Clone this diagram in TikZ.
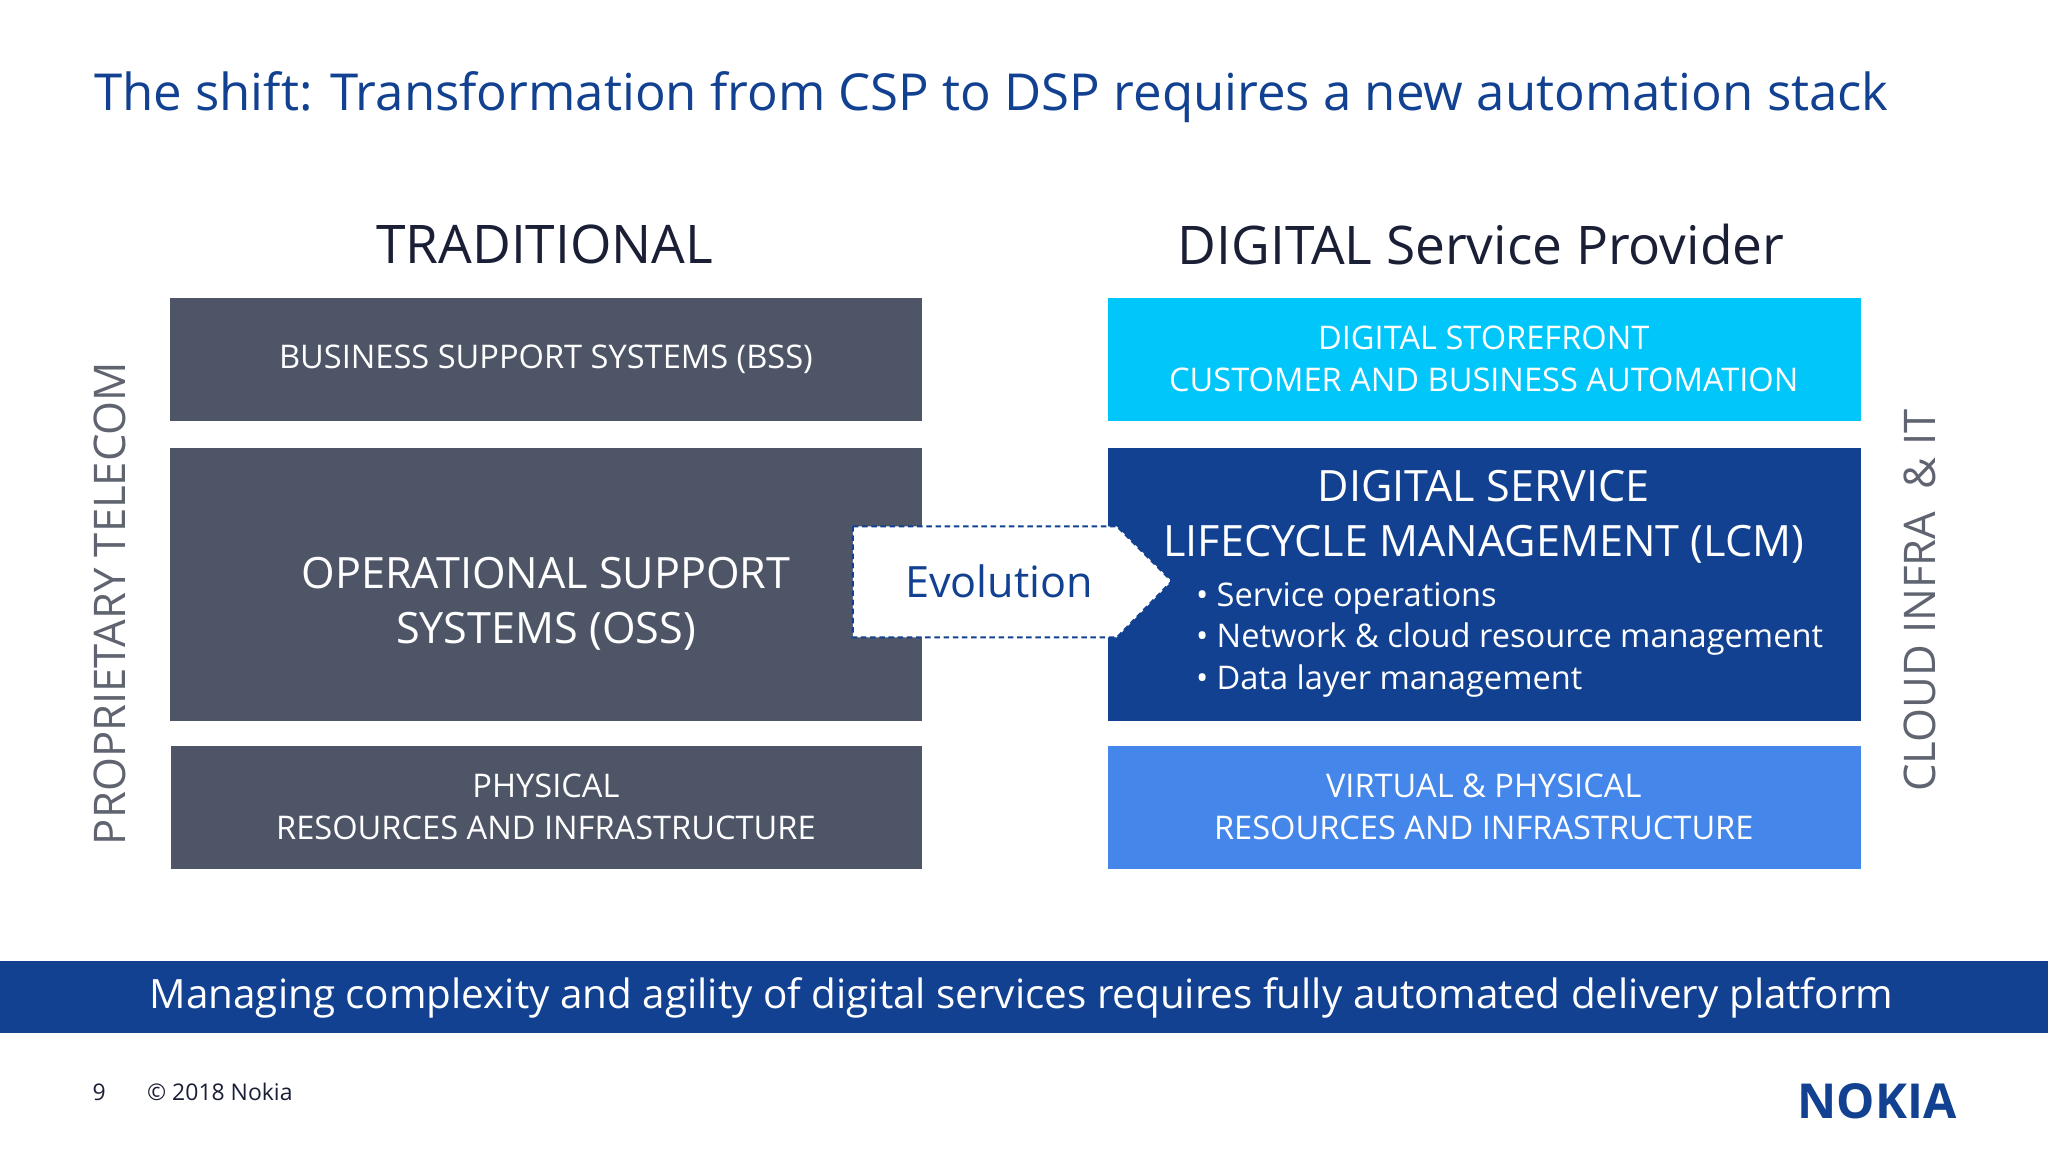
\documentclass[tikz,border=0pt]{standalone}
\usepackage{fontspec}
\setmainfont{Open Sans}
\usetikzlibrary{positioning,shapes.symbols}
\definecolor{slate}{HTML}{4D5566}
\definecolor{nokblue}{HTML}{124191}
\definecolor{skyblue}{HTML}{00C6FA}
\definecolor{midblue}{HTML}{4486EA}
\definecolor{ink}{HTML}{1A1F36}
\definecolor{sidegray}{HTML}{5F6470}
\tikzset{
  block/.style={draw=none,text=white,align=center,inner sep=0pt,font=\fontsize{7.1}{9.1}\selectfont},
  head/.style={text=ink,font=\fontsize{11.6}{14}\selectfont},
  side/.style={text=sidegray,rotate=90,font=\fontsize{9.5}{11}\selectfont}
}
\begin{document}
\begin{tikzpicture}[x=0.1mm,y=-0.1mm]
  \useasboundingbox[fill=white] (0,0) rectangle (1568,882);
  \node[text=nokblue,font=\fontsize{11.1}{13}\selectfont] (title) at (759,74) {The shift: Transformation from CSP to DSP requires a new automation stack};
  \node[head] (trad) at (417,187) {TRADITIONAL};
  \node[head] (dsp) at (1134,187) {DIGITAL Service Provider};
  % traditional stack
  \fill[slate] (130,228) rectangle (706,322);
  \node[block] (bss) at (418,275) {BUSINESS SUPPORT SYSTEMS (BSS)};
  \fill[slate] (130,343) rectangle (706,552);
  \node[block,font=\fontsize{9.4}{12}\selectfont] (oss) at (418,462) {OPERATIONAL SUPPORT\\SYSTEMS (OSS)};
  \fill[slate] (131,571) rectangle (706,665);
  \node[block] (phys) at (418,618) {PHYSICAL\\RESOURCES AND INFRASTRUCTURE};
  % digital stack
  \fill[skyblue] (848,228) rectangle (1425,322);
  \node[block] (store) at (1136,275) {DIGITAL STOREFRONT\\CUSTOMER AND BUSINESS AUTOMATION};
  \fill[nokblue] (848,343) rectangle (1425,552);
  \node[block,font=\fontsize{9.4}{12}\selectfont] (lcm) at (1136,396) {DIGITAL SERVICE\\LIFECYCLE MANAGEMENT (LCM)};
  \node[block,align=left,anchor=north west,font=\fontsize{7.1}{9.1}\selectfont] (items) at (915,445)
    {\textbullet\ Service operations\\\textbullet\ Network \& cloud resource management\\\textbullet\ Data layer management};
  \fill[midblue] (848,571) rectangle (1425,665);
  \node[block] (virt) at (1136,618) {VIRTUAL \& PHYSICAL\\RESOURCES AND INFRASTRUCTURE};
  % evolution arrow
  \draw[fill=white,draw=nokblue,dash pattern=on 1.2pt off 0.8pt,line width=0.4pt] (653,403) -- (855,403) -- (897,445) -- (855,488) -- (653,488) -- cycle;
  \node[text=nokblue,font=\fontsize{9.4}{11}\selectfont] (evo) at (765,445) {Evolution};
  % side labels
  \node[side] (prop) at (84,462) {PROPRIETARY TELECOM};
  \node[side] (cloud) at (1470,460) {CLOUD INFRA \ \&\ IT};
  % banner
  \fill[nokblue] (0,736) rectangle (1568,791);
  \node[text=white,font=\fontsize{8.8}{10}\selectfont] (msg) at (782,764) {Managing complexity and agility of digital services requires fully automated delivery platform};
  % footer
  \node[text=ink,font=\fontsize{5}{6}\selectfont] (page) at (76,836) {9};
  \node[text=ink,anchor=west,inner sep=0pt,font=\fontsize{5}{6}\selectfont] (copy) at (112,836) {© 2018 Nokia};
  \node[text=nokblue,font=\fontsize{10.5}{12}\bfseries\selectfont] (logo) at (1437,843) {NOKIA};
\end{tikzpicture}
\end{document}
